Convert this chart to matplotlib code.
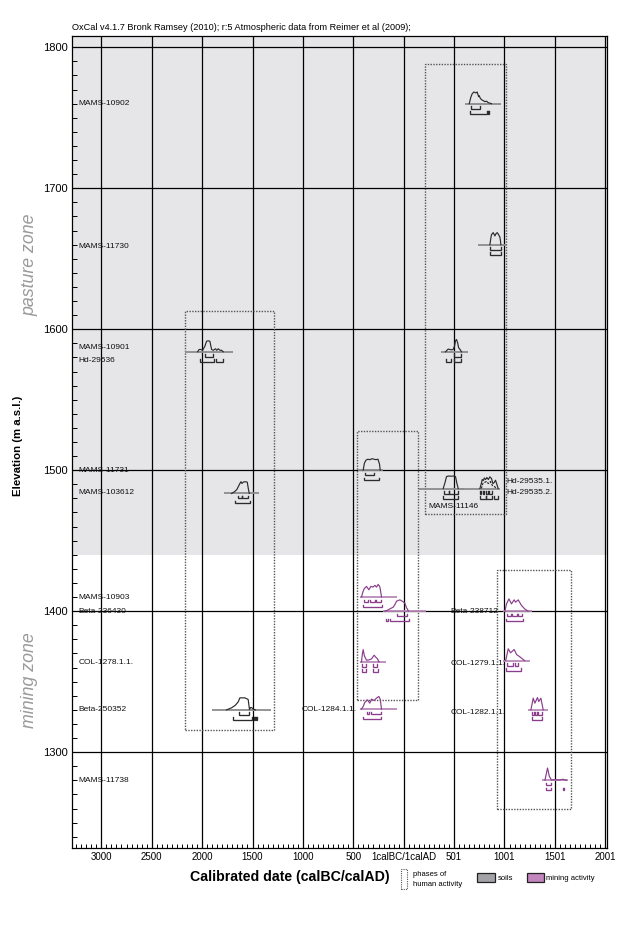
import numpy as np
import matplotlib
matplotlib.use("Agg")
import matplotlib.pyplot as plt
from matplotlib.patches import Rectangle

plt.rcParams["font.family"] = ["Liberation Sans", "DejaVu Sans"]

# ----------------------------------------------------------------------------
# data (years: 0 = 1calBC/1calAD, BC negative;
# curve heights in pixels-of-peak, 12.5 ~ full height)
# ----------------------------------------------------------------------------
x_ticks = [-3000, -2500, -2000, -1500, -1000, -500, 0, 500, 1000, 1500, 2000]
x_labels = ["3000", "2500", "2000", "1500", "1000", "500", "1calBC/1calAD",
            "501", "1001", "1501", "2001"]
y_ticks = [1300, 1400, 1500, 1600, 1700, 1800]

# phases of human activity: (year0, year1, elev0, elev1)
phase_boxes = [(-2171, -1288, 1316, 1613),
               (-461, 137, 1337, 1528),
               (210, 1017, 1469, 1788),
               (928, 1659, 1260, 1429)]

# soils
mams10902_elev, mams10902_base = 1760, (613, 964)
mams10902_x = [650, 667, 680, 697, 716, 729, 743, 749, 759, 772, 789, 805, 822, 838, 855, 871]
mams10902_h = [0, 6.7, 10, 11.7, 10.7, 11.7, 7, 8, 5.5, 4, 3, 2, 2.5, 1, 0.5, 0]
mams10902_r68 = [(663, 756)]
mams10902_r95 = [(657, 825), (833, 845)]

mams11730_elev, mams11730_base = 1660, (739, 1014)
mams11730_x = [855, 864, 871, 888, 905, 916, 928, 941, 954, 960, 964]
mams11730_h = [0, 6, 10, 12, 8.7, 11, 12, 10, 7.7, 4, 0]
mams11730_r68 = [(861, 961)]
mams11730_r95 = [(858, 964)]

mams10901_elev, mams10901_base = 1584, (-2165, -1691)
mams10901_x = [-2045, -2030, -2012, -1995, -1972, -1956, -1940, -1923, -1906,
               -1890, -1867, -1855, -1840, -1823, -1807, -1791]
mams10901_h = [0, 2.3, 2.3, 1.5, 5.7, 10.5, 11, 10.5, 2.3, 1.5, 3, 1.5, 3, 1.5, 1.5, 0]
mams10901_r68 = [(-1975, -1889)]
mams10901_r95 = [(-2025, -1880), (-1867, -1794)]

hd29536_elev, hd29536_base = 1584, (375, 640)
hd29536_x = [415, 441, 470, 491, 505, 514, 524, 535, 545, 557, 573]
hd29536_h = [0, 2.7, 2, 2.3, 6, 11, 12.3, 9, 4, 2.7, 0]
hd29536_r68 = [(501, 573)]
hd29536_r95 = [(415, 468), (501, 573)]

mams11731_elev, mams11731_base = 1500, (-451, -203)
mams11731_x = [-402, -390, -375, -355, -335, -315, -295, -275, -255, -240, -233]
mams11731_h = [0, 7, 10, 11, 10.5, 11.5, 11, 10.5, 11, 6, 0]
mams11731_r68 = [(-385, -290)]
mams11731_r95 = [(-395, -245)]

mams103612_elev, mams103612_base = 1483.5, (-1781, -1433)
mams103612_x = [-1708, -1690, -1675, -1655, -1640, -1625, -1615, -1605, -1590,
                -1570, -1552, -1542, -1532]
mams103612_h = [0, 1, 2, 4, 7, 10, 11.7, 10, 11.5, 11.7, 11.3, 5, 0]
mams103612_r68 = [(-1641, -1600), (-1600, -1549)]
mams103612_r95 = [(-1675, -1526)]

mams11146_elev, mams11146_base = 1487, (150, 600)
mams11146_x = [392, 410, 425, 445, 470, 495, 514, 528, 541]
mams11146_h = [0, 6, 12, 12.5, 12.3, 12.5, 12, 5, 0]
mams11146_r68 = [(402, 450), (450, 534)]
mams11146_r95 = [(392, 541)]

hd29535_elev, hd29535_base = 1487, (560, 960)
hd29535a_x = [756, 770, 779, 790, 800, 812, 825, 840, 855, 871, 885, 898, 911, 925, 937]
hd29535a_h = [0, 5, 9, 8, 10.5, 9, 11, 9, 11.7, 10, 5, 6, 8.3, 4, 0]
hd29535b_x = [770, 785, 800, 820, 840, 860, 880, 900, 920]
hd29535b_h = [0, 5, 6, 7, 5, 7, 3, 2, 0]
hd29535_r68 = [(756, 770), (782, 800), (812, 835), (850, 880)]
hd29535_r95 = [(756, 815), (815, 880), (895, 935)]

beta250352_elev, beta250352_base = 1330, (-1906, -1321)
beta250352_x = [-1758, -1740, -1708, -1669, -1642, -1625, -1600, -1576, -1555,
                -1543, -1530, -1520, -1510, -1490, -1470]
beta250352_h = [0, 0.7, 2, 4.7, 8, 12, 12, 12, 11, 10.3, 0.3, 2.3, 2.3, 0.5, 0]
beta250352_r68 = [(-1632, -1536)]
beta250352_r95 = [(-1698, -1503), (-1482, -1474), (-1462, -1454)]

# mining activity
mams10903_elev, mams10903_base = 1410, (-435, -62)
mams10903_x = [-419, -405, -392, -369, -346, -325, -305, -286, -270, -253, -236, -220]
mams10903_h = [0, 5, 8.3, 10.7, 7.3, 10.7, 10, 11.7, 10, 12.7, 10, 0]
mams10903_r68 = [(-392, -352), (-336, -286), (-270, -226)]
mams10903_r95 = [(-402, -220)]

beta236430_elev, beta236430_base = 1400, (-203, 226)
beta236430_x = [-187, -160, -137, -104, -85, -71, -38, -15, 12, 28, 38, 45]
beta236430_h = [0, 1, 2.3, 4, 7, 10, 11.3, 10, 8, 3.3, 2, 0]
beta236430_r68 = [(-71, 28)]
beta236430_r95 = [(-180, -160), (-137, 51)]

col1278_elev, col1278_base = 1364, (-435, -180)
col1278_x = [-419, -410, -402, -390, -369, -345, -320, -293, -280, -262, -245]
col1278_h = [0, 8, 12.3, 6, 1.7, 2, 3, 6.7, 5, 3.3, 0]
col1278_r68 = [(-412, -378), (-305, -262)]
col1278_r95 = [(-412, -370), (-305, -255)]

col1284_elev, col1284_base = 1330.5, (-435, -71)
col1284_x = [-419, -402, -386, -360, -336, -320, -293, -270, -247, -233, -220]
col1284_h = [0, 2.7, 6.7, 9.3, 6, 10, 8.7, 11, 12.7, 10, 0]
col1284_r68 = [(-369, -340), (-320, -230)]
col1284_r95 = [(-402, -222)]

beta238712_elev, beta238712_base = 1400, (987, 1268)
beta238712_x = [1004, 1020, 1044, 1069, 1096, 1110, 1136, 1169, 1200, 1235]
beta238712_h = [0, 7.3, 12.3, 7.3, 11.3, 9, 11.3, 5.7, 2.3, 0]
beta238712_r68 = [(1020, 1065), (1075, 1120), (1130, 1169)]
beta238712_r95 = [(1012, 1185)]

col1279_elev, col1279_base = 1365, (987, 1252)
col1279_x = [1012, 1037, 1060, 1096, 1120, 1152, 1185, 1200]
col1279_h = [0, 11.7, 7.7, 11, 6, 3.7, 1, 0]
col1279_r68 = [(1020, 1086), (1100, 1130)]
col1279_r95 = [(1012, 1160)]

col1282_elev, col1282_base = 1330, (1235, 1427)
col1282_x = [1262, 1285, 1302, 1327, 1340, 1361, 1384]
col1282_h = [0, 11.7, 6.7, 12.3, 8.3, 11.7, 0]
col1282_r68 = [(1268, 1290), (1300, 1320), (1330, 1370)]
col1282_r95 = [(1268, 1375)]

mams11738_elev, mams11738_base = 1280, (1374, 1632)
mams11738_x = [1401, 1420, 1427, 1445, 1466, 1500, 1540, 1580, 1615]
mams11738_h = [0, 9, 12.3, 4, 0.3, 0.7, 0.3, 1, 0]
mams11738_r68 = [(1407, 1460)]
mams11738_r95 = [(1407, 1466), (1580, 1590)]

# sample labels: (text, year, elevation)
left_labels = ["MAMS-10902", "MAMS-11730", "MAMS-10901", "Hd-29536", "MAMS-11731",
               "MAMS-103612", "MAMS-10903", "Beta-236430", "COL-1278.1.1.",
               "Beta-250352", "MAMS-11738"]
left_label_elev = [1760, 1659, 1587, 1578, 1499.5, 1484.5, 1409.5, 1400, 1363.3, 1330, 1279.7]
other_labels = ["MAMS-11146", "Hd-29535.1.", "Hd-29535.2.", "COL-1284.1.1.",
                "Beta-238712", "COL-1279.1.1.", "COL-1282.1.1."]
other_label_x = [243, 1017, 1017, -1017, 461, 461, 461]
other_label_elev = [1474, 1491.7, 1484, 1330, 1400, 1363, 1328]

# ----------------------------------------------------------------------------
SOIL_LINE, SOIL_BASE = "#2b2b2b", "#8c8c8c"
MINE_LINE, MINE_BASE = "#8a3d8c", "#b98ab9"
PX = 100.0 / 141.0          # metres per pixel on the y-axis

soils = [
    (mams10902_elev, mams10902_base, [(mams10902_x, mams10902_h)], mams10902_r68, mams10902_r95),
    (mams11730_elev, mams11730_base, [(mams11730_x, mams11730_h)], mams11730_r68, mams11730_r95),
    (mams10901_elev, mams10901_base, [(mams10901_x, mams10901_h)], mams10901_r68, mams10901_r95),
    (hd29536_elev, hd29536_base, [(hd29536_x, hd29536_h)], hd29536_r68, hd29536_r95),
    (mams11731_elev, mams11731_base, [(mams11731_x, mams11731_h)], mams11731_r68, mams11731_r95),
    (mams103612_elev, mams103612_base, [(mams103612_x, mams103612_h)], mams103612_r68, mams103612_r95),
    (mams11146_elev, mams11146_base, [(mams11146_x, mams11146_h)], mams11146_r68, mams11146_r95),
    (hd29535_elev, hd29535_base, [(hd29535a_x, hd29535a_h), (hd29535b_x, hd29535b_h)],
     hd29535_r68, hd29535_r95),
    (beta250352_elev, beta250352_base, [(beta250352_x, beta250352_h)], beta250352_r68, beta250352_r95),
]
mining = [
    (mams10903_elev, mams10903_base, [(mams10903_x, mams10903_h)], mams10903_r68, mams10903_r95),
    (beta236430_elev, beta236430_base, [(beta236430_x, beta236430_h)], beta236430_r68, beta236430_r95),
    (col1278_elev, col1278_base, [(col1278_x, col1278_h)], col1278_r68, col1278_r95),
    (col1284_elev, col1284_base, [(col1284_x, col1284_h)], col1284_r68, col1284_r95),
    (beta238712_elev, beta238712_base, [(beta238712_x, beta238712_h)], beta238712_r68, beta238712_r95),
    (col1279_elev, col1279_base, [(col1279_x, col1279_h)], col1279_r68, col1279_r95),
    (col1282_elev, col1282_base, [(col1282_x, col1282_h)], col1282_r68, col1282_r95),
    (mams11738_elev, mams11738_base, [(mams11738_x, mams11738_h)], mams11738_r68, mams11738_r95),
]

fig = plt.figure(figsize=(6.21, 9.52), dpi=100)
ax = fig.add_axes([72.3 / 621, 1 - 848 / 952, (607.3 - 72.3) / 621, (848 - 36) / 952])
ax.set_xlim(-3288, 2020)
ax.set_ylim(1232, 1808)
ax.axhspan(1440, 1808, color="#e6e6e9", zorder=0, lw=0)

for v in x_ticks:
    ax.axvline(v, color="black", lw=0.9, zorder=1)
for v in y_ticks:
    ax.axhline(v, color="black", lw=0.9, zorder=1)

for x0, x1, y0, y1 in phase_boxes:
    ax.add_patch(Rectangle((x0, y0), x1 - x0, y1 - y0, fill=False, ls=(0, (1, 1)),
                           lw=1.0, ec="#555555", zorder=2))


def draw_sample(elev, base, curves, r68, r95, line_c, base_c):
    ax.plot(base, [elev, elev], color=base_c, lw=1.3, zorder=3, solid_capstyle="butt")
    for i, (cx, ch) in enumerate(curves):
        ax.plot(cx, elev + np.array(ch) * PX, color=line_c, lw=0.85, zorder=4,
                ls="-" if i == 0 else (0, (2, 1)))
    for row, ranges in ((5.0, r68), (10.0, r95)):
        yb = elev - row * PX
        for a, b in ranges:
            ax.plot([a, a, b, b], [yb + 2.5 * PX, yb, yb, yb + 2.5 * PX],
                    color=line_c, lw=0.95, zorder=4, solid_joinstyle="miter")


for s in soils:
    draw_sample(*s, SOIL_LINE, SOIL_BASE)
for s in mining:
    draw_sample(*s, MINE_LINE, MINE_BASE)

for t, e in zip(left_labels, left_label_elev):
    ax.text(-3229, e, t, fontsize=6, va="center", ha="left", color="#111111", zorder=5)
for t, xv, e in zip(other_labels, other_label_x, other_label_elev):
    ax.text(xv, e, t, fontsize=6, va="center", ha="left", color="#111111", zorder=5)

ax.set_xticks(x_ticks)
ax.set_xticklabels(x_labels, fontsize=7)
ax.set_xticks(np.arange(-3250, 2020, 50), minor=True)
ax.set_yticks(y_ticks)
ax.set_yticklabels([str(v) for v in y_ticks], fontsize=8)
ax.set_yticks(np.arange(1240, 1808, 10), minor=True)
ax.tick_params(axis="both", which="major", length=0, pad=3)
ax.tick_params(axis="x", which="minor", direction="in", length=3, width=0.7)
ax.tick_params(axis="y", which="minor", direction="in", length=3.3, width=0.7)
for sp in ax.spines.values():
    sp.set_linewidth(0.9)

fig.text(72.3 / 621, 1 - 28 / 952,
         "OxCal v4.1.7 Bronk Ramsey (2010); r:5 Atmospheric data from Reimer et al (2009);",
         fontsize=6.6, ha="left", va="center")
fig.text(18 / 621, 1 - 446 / 952, "Elevation (m a.s.l.)", rotation=90, fontsize=8.2,
         fontweight="bold", ha="center", va="center")
fig.text(30 / 621, 1 - 265 / 952, "pasture zone", rotation=90, fontsize=12.8,
         style="italic", color="#9a9a9a", ha="center", va="center")
fig.text(30 / 621, 1 - 680 / 952, "mining zone", rotation=90, fontsize=12.8,
         style="italic", color="#9a9a9a", ha="center", va="center")
fig.text(290 / 621, 1 - 877 / 952, "Calibrated date (calBC/calAD)", fontsize=10.2,
         fontweight="bold", ha="center", va="center")

# legend
fig.patches.append(Rectangle((401 / 621, 1 - 889 / 952), 6 / 621, 20 / 952, fill=False,
                             ls=(0, (1, 1)), lw=0.8, ec="#555555",
                             transform=fig.transFigure, figure=fig))
fig.text(413 / 621, 1 - 874 / 952, "phases of", fontsize=5.5, ha="left", va="center")
fig.text(413 / 621, 1 - 884 / 952, "human activity", fontsize=5.5, ha="left", va="center")
fig.patches.append(Rectangle((477 / 621, 1 - 882 / 952), 18 / 621, 9 / 952, fc="#a3a3a7",
                             ec="#222222", lw=0.9, transform=fig.transFigure, figure=fig))
fig.text(498 / 621, 1 - 878 / 952, "soils", fontsize=5.5, ha="left", va="center")
fig.patches.append(Rectangle((527 / 621, 1 - 882 / 952), 17 / 621, 9 / 952, fc="#c285bd",
                             ec="#222222", lw=0.9, transform=fig.transFigure, figure=fig))
fig.text(546 / 621, 1 - 878 / 952, "mining activity", fontsize=5.5, ha="left", va="center")

fig.savefig("out.png", dpi=100)
